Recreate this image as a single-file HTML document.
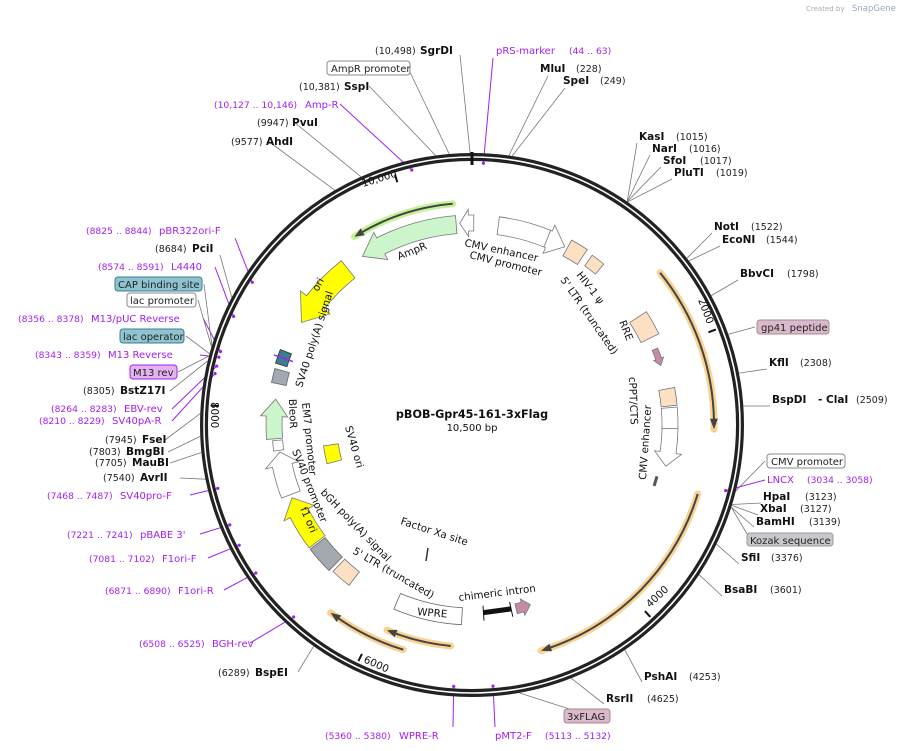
<!DOCTYPE html>
<html><head><meta charset="utf-8">
<style>
html,body{margin:0;padding:0;background:#fff;}
svg{display:block;}
text{font-family:"DejaVu Sans","Liberation Sans",sans-serif;}
.n{font-size:9.5px;fill:#222;}
.b{font-size:10.5px;font-weight:bold;fill:#111;}
.p{font-size:10px;fill:#a020f0;}
.pn{font-size:9.2px;fill:#a020f0;}
.f{font-size:10.3px;fill:#111;}
.bx{font-size:10px;fill:#222;}
.l{stroke:#777;stroke-width:0.8;fill:none;}
.lp{stroke:#a020f0;stroke-width:1;fill:none;}
</style></head>
<body>
<svg id="s" width="903" height="751" viewBox="0 0 903 751" xmlns="http://www.w3.org/2000/svg">
<text x="806" y="11" style="font-size:7px;fill:#aaa">Created by</text>
<text x="852" y="11" style="font-size:8.5px;fill:#9ab">SnapGene</text>
<g id="lines"></g>
<circle cx="472" cy="425" r="268" fill="none" stroke="#222" stroke-width="8"/>
<circle cx="472" cy="425" r="268" fill="none" stroke="#fff" stroke-width="1.6"/>
<line x1="472" y1="152" x2="472" y2="165" stroke="#111" stroke-width="3"/>
<g id="feat"></g>
<text x="363" y="187" class="f" transform="rotate(-17 363 187)">10,000</text>
<text x="698" y="300" class="f" transform="rotate(69 698 300)">2000</text>
<text x="650" y="608" class="f" transform="rotate(-43 650 608)">4000</text>
<text x="363" y="662" class="f" transform="rotate(24 363 662)">6000</text>
<text x="211" y="402" class="f" transform="rotate(90 211 402)">8000</text>

<text x="472" y="418" text-anchor="middle" style="font-size:11.2px;font-weight:bold;fill:#111">pBOB-Gpr45-161-3xFlag</text>
<text x="472" y="431" text-anchor="middle" style="font-size:10px;fill:#111">10,500 bp</text>

<text x="399" y="260" class="f" transform="rotate(-22 399 260)">AmpR</text>
<text x="464" y="246" class="f" transform="rotate(12 464 246)">CMV enhancer</text>
<text x="469" y="258" class="f" transform="rotate(14 469 258)">CMV promoter</text>
<text x="576" y="275" class="f" transform="rotate(52 576 275)">HIV-1 ψ</text>
<text x="560" y="280" class="f" transform="rotate(55 560 280)">5' LTR (truncated)</text>
<text x="619" y="322" class="f" transform="rotate(68 619 322)">RRE</text>
<text x="629" y="377" class="f" transform="rotate(88 629 377)">cPPT/CTS</text>
<text x="646" y="480" class="f" transform="rotate(-86 646 480)">CMV enhancer</text>
<text x="302" y="388" class="f" transform="rotate(-72 302 388)">SV40 poly(A) signal</text>
<text x="289" y="399" class="f" transform="rotate(88 289 399)">BleoR</text>
<text x="302" y="403" class="f" transform="rotate(84 302 403)">EM7 promoter</text>
<text x="292" y="451" class="f" transform="rotate(68 292 451)">SV40 promoter</text>
<text x="320" y="493" class="f" transform="rotate(46 320 493)">bGH poly(A) signal</text>
<text x="352" y="553" class="f" transform="rotate(30 352 553)">5' LTR (truncated)</text>
<text x="345" y="427" class="f" transform="rotate(74 345 427)">SV40 ori</text>
<text x="400" y="524" class="f" transform="rotate(18 400 524)">Factor Xa site</text>
<text x="459" y="601" class="f" transform="rotate(-7 459 601)">chimeric intron</text>
<text x="417" y="615" class="f" transform="rotate(5 417 615)">WPRE</text>
<text x="318" y="292" class="f" transform="rotate(-62 318 292)">ori</text>
<text x="300" y="509" class="f" transform="rotate(66 300 509)">f1 ori</text>

<text x="375" y="54" class="n">(10,498)</text><text x="420" y="54" class="b">SgrDI</text>
<text x="496" y="54" class="p">pRS-marker</text><text x="569" y="54" class="pn">(44 .. 63)</text>
<text x="540" y="72" class="b">MluI</text><text x="576" y="72" class="n">(228)</text>
<text x="563" y="84" class="b">SpeI</text><text x="600" y="84" class="n">(249)</text>
<rect x="327" y="61" width="83" height="14" rx="3" fill="#fff" stroke="#888"/><text x="331" y="72" class="bx">AmpR promoter</text>
<text x="299" y="90" class="n">(10,381)</text><text x="344" y="90" class="b">SspI</text>
<text x="214" y="108" class="pn">(10,127 .. 10,146)</text><text x="305" y="108" class="p">Amp-R</text>
<text x="257" y="126" class="n">(9947)</text><text x="292" y="126" class="b">PvuI</text>
<text x="231" y="145" class="n">(9577)</text><text x="266" y="145" class="b">AhdI</text>

<text x="639" y="140" class="b">KasI</text><text x="676" y="140" class="n">(1015)</text>
<text x="652" y="152" class="b">NarI</text><text x="689" y="152" class="n">(1016)</text>
<text x="663" y="164" class="b">SfoI</text><text x="700" y="164" class="n">(1017)</text>
<text x="674" y="176" class="b">PluTI</text><text x="716" y="176" class="n">(1019)</text>
<text x="714" y="230" class="b">NotI</text><text x="751" y="230" class="n">(1522)</text>
<text x="722" y="243" class="b">EcoNI</text><text x="766" y="243" class="n">(1544)</text>
<text x="740" y="277" class="b">BbvCI</text><text x="787" y="277" class="n">(1798)</text>
<rect x="757" y="320" width="72" height="14" rx="3" fill="#dbb9cc" stroke="#a88"/><text x="761" y="331" class="bx">gp41 peptide</text>
<text x="769" y="366" class="b">KflI</text><text x="800" y="366" class="n">(2308)</text>
<text x="772" y="403" class="b">BspDI</text><text x="818" y="403" class="b">- ClaI</text><text x="856" y="403" class="n">(2509)</text>
<rect x="767" y="454" width="78" height="14" rx="3" fill="#fff" stroke="#888"/><text x="771" y="465" class="bx">CMV promoter</text>
<text x="767" y="483" class="p">LNCX</text><text x="807" y="483" class="pn">(3034 .. 3058)</text>
<text x="763" y="500" class="b">HpaI</text><text x="805" y="500" class="n">(3123)</text>
<text x="760" y="512" class="b">XbaI</text><text x="800" y="512" class="n">(3127)</text>
<text x="756" y="525" class="b">BamHI</text><text x="809" y="525" class="n">(3139)</text>
<rect x="747" y="533" width="86" height="13" rx="3" fill="#c8c8cc" stroke="#999"/><text x="750" y="544" class="bx">Kozak sequence</text>
<text x="741" y="561" class="b">SfiI</text><text x="771" y="561" class="n">(3376)</text>
<text x="724" y="593" class="b">BsaBI</text><text x="770" y="593" class="n">(3601)</text>
<text x="644" y="680" class="b">PshAI</text><text x="689" y="680" class="n">(4253)</text>
<text x="606" y="702" class="b">RsrII</text><text x="647" y="702" class="n">(4625)</text>
<rect x="564" y="709" width="46" height="14" rx="3" fill="#dbb9cc" stroke="#a88"/><text x="567" y="720" class="bx">3xFLAG</text>
<text x="495" y="739" class="p">pMT2-F</text><text x="545" y="739" class="pn">(5113 .. 5132)</text>
<text x="325" y="739" class="pn">(5360 .. 5380)</text><text x="399" y="739" class="p">WPRE-R</text>

<text x="218" y="676" class="n">(6289)</text><text x="255" y="676" class="b">BspEI</text>
<text x="139" y="647" class="pn">(6508 .. 6525)</text><text x="212" y="647" class="p">BGH-rev</text>
<text x="105" y="594" class="pn">(6871 .. 6890)</text><text x="178" y="594" class="p">F1ori-R</text>
<text x="89" y="562" class="pn">(7081 .. 7102)</text><text x="162" y="562" class="p">F1ori-F</text>
<text x="67" y="538" class="pn">(7221 .. 7241)</text><text x="140" y="538" class="p">pBABE 3'</text>
<text x="47" y="499" class="pn">(7468 .. 7487)</text><text x="120" y="499" class="p">SV40pro-F</text>
<text x="103" y="481" class="n">(7540)</text><text x="140" y="481" class="b">AvrII</text>
<text x="95" y="466" class="n">(7705)</text><text x="132" y="466" class="b">MauBI</text>
<text x="89" y="455" class="n">(7803)</text><text x="126" y="455" class="b">BmgBI</text>
<text x="105" y="443" class="n">(7945)</text><text x="142" y="443" class="b">FseI</text>
<text x="39" y="424" class="pn">(8210 .. 8229)</text><text x="112" y="424" class="p">SV40pA-R</text>
<text x="51" y="412" class="pn">(8264 .. 8283)</text><text x="124" y="412" class="p">EBV-rev</text>
<text x="83" y="394" class="n">(8305)</text><text x="120" y="394" class="b">BstZ17I</text>
<rect x="130" y="365" width="47" height="14" rx="3" fill="#e2b3f0" stroke="#a020f0"/><text x="133" y="376" class="bx">M13 rev</text>
<text x="35" y="358" class="pn">(8343 .. 8359)</text><text x="108" y="358" class="p">M13 Reverse</text>
<rect x="120" y="329" width="64" height="14" rx="3" fill="#8fc3cf" stroke="#3a7f8f"/><text x="123" y="340" class="bx">lac operator</text>
<text x="18" y="322" class="pn">(8356 .. 8378)</text><text x="91" y="322" class="p">M13/pUC Reverse</text>
<rect x="127" y="293" width="69" height="14" rx="3" fill="#fff" stroke="#888"/><text x="130" y="304" class="bx">lac promoter</text>
<rect x="115" y="277" width="87" height="14" rx="3" fill="#8fc3cf" stroke="#3a7f8f"/><text x="118" y="288" class="bx">CAP binding site</text>
<text x="98" y="270" class="pn">(8574 .. 8591)</text><text x="171" y="270" class="p">L4440</text>
<text x="155" y="252" class="n">(8684)</text><text x="192" y="252" class="b">PciI</text>
<text x="86" y="234" class="pn">(8825 .. 8844)</text><text x="159" y="234" class="p">pBR322ori-F</text>
</svg>
<script>
(function(){
var NS="http://www.w3.org/2000/svg",cx=472,cy=425;
function P(r,t){t=t*Math.PI/180;return [cx+r*Math.sin(t),cy-r*Math.cos(t)];}
function pt(r,t){var p=P(r,t);return p[0].toFixed(1)+" "+p[1].toFixed(1);}
function arc(r,a,b){var large=Math.abs(b-a)>180?1:0,sw=b>a?1:0;return "A"+r+" "+r+" 0 "+large+" "+sw+" "+pt(r,b);}
var feat=document.getElementById("feat"),lines=document.getElementById("lines");
function add(g,tag,at){var e=document.createElementNS(NS,tag);for(var k in at)e.setAttribute(k,at[k]);g.appendChild(e);return e;}
function band(r1,r2,a,b,fill,stroke){add(feat,"path",{d:"M"+pt(r2,a)+arc(r2,a,b)+"L"+pt(r1,b)+arc(r1,b,a)+"Z",fill:fill,stroke:stroke||"#777","stroke-width":0.8});}
function arrow(r1,r2,a,b,h,fill){var d=b>a?1:-1,bb=b-d*h,w=(r2-r1)*0.35,rm=(r1+r2)/2;
 add(feat,"path",{d:"M"+pt(r2,a)+arc(r2,a,bb)+"L"+pt(r2+w,bb)+"L"+pt(rm,b)+"L"+pt(r1-w,bb)+"L"+pt(r1,bb)+arc(r1,bb,a)+"Z",fill:fill,stroke:"#777","stroke-width":0.8});}
function hl(r,a,b,col){var d=b>a?1:-1;
 add(feat,"path",{d:"M"+pt(r,a)+arc(r,a,b),fill:"none",stroke:col,"stroke-width":7,"stroke-linecap":"round",opacity:0.8});
 add(feat,"path",{d:"M"+pt(r,a)+arc(r,a,b-d*1.5),fill:"none",stroke:"#444","stroke-width":2});
 add(feat,"path",{d:"M"+pt(r-4,b-d*2.5)+"L"+pt(r,b)+"L"+pt(r+4,b-d*2.5)+"Z",fill:"#444"});}
hl(222,-5,-32,"#b6ef80");
hl(242,51,91,"#f8c878");
hl(236,107,163,"#f8c878");
hl(222,185.5,202.5,"#f8c878");
hl(235,197,217,"#f8c878");
arrow(192,210,-4.5,-33,6,"#ccf5cc");
arrow(194,210,0.5,-3.5,2.5,"#fff");
arrow(192,210,7.5,27.5,5,"#fff");
add(feat,"path",{d:"M"+pt(192,22)+"L"+pt(210,22),stroke:"#777","stroke-width":0.8});
band(192,210,28.3,33.3,"#fde0c4");
band(195,208,35.3,39.3,"#fde0c4");
band(188,208,57,64,"#fde0c4");
arrow(195,201,67.5,72.5,2,"#c48aa8");
band(190,206,79.5,84.5,"#fde0c4");
arrow(190,206,85,102,4,"#fff");
add(feat,"path",{d:"M"+pt(190,91)+"L"+pt(206,91),stroke:"#777","stroke-width":0.8});
add(feat,"path",{d:"M"+pt(192,105.5)+"L"+pt(192,108.5),stroke:"#555","stroke-width":3});
add(feat,"path",{d:"M"+pt(188,168)+"L"+pt(188,176.5),stroke:"#111","stroke-width":5});
add(feat,"path",{d:"M"+pt(181,168)+"L"+pt(196,168)+"M"+pt(181,176.5)+"L"+pt(196,176.5),stroke:"#111","stroke-width":1});
arrow(184,194,166.5,162,2.5,"#c48aa8");
band(183,200,183,203,"#fff","#666");
add(feat,"path",{d:"M428 548L426 561",stroke:"#333","stroke-width":1.5});
band(185,202,217.5,223.5,"#fde0c4");
band(185,204,224.5,232.5,"#a4a8b0","#666");
arrow(184,204,233,248,5,"#ffff00");
arrow(184,204,249,262,4,"#fff");
band(190,200,262.5,265.5,"#fff");
arrow(190,206,266,277.5,5,"#ccf5cc");
band(135,150,255,262,"#ffff00");
band(190,205,282,286,"#a4a8b0","#666");
band(194,206,287.5,291.5,"#3a7f8f","#333");
add(feat,"path",{d:"M"+pt(190,289.5)+"L"+pt(210,289.5),stroke:"#a020f0","stroke-width":1.5});
arrow(188,210,321.5,301,7,"#ffff00");
[342.9,68.6,137.1,205.7,274.3].forEach(function(t){add(feat,"path",{d:"M"+pt(262,t)+"L"+pt(254,t),stroke:"#111","stroke-width":2});});
var L=[[460,55,359.6],[493,58,2.5,1],[548,76,7.8],[565,88,8.5],[637,143,34.8],[650,155,34.8],[661,167,34.8],[672,179,34.9],[712,233,52.2],[720,246,52.9],[738,280,61.6],[755,327,70.5],[767,369,79],[770,406,86],[765,461,104],[765,480,104.5,1],[761,503,107],[758,515,107.2],[754,527,107.6],[750,539,107.6],[739,564,116],[722,596,123.4],[642,682,145.8],[604,704,158.6],[585,714,170],[495,727,175.4,1],[453,727,184,1],[298,672,215.6],[250,643,222.9,1],[224,590,235.6,1],[208,558,242.7,1],[200,534,247.6,1],[190,495,256,1],[180,478,258.5],[170,463,264.2],[168,452,267.6],[165,440,272.4],[172,421,281.3,1],[172,409,283,1],[170,391,283.6],[178,372,284.7],[200,355,285,1],[186,336,285.2],[203,318,286.3,1],[198,300,286.7],[204,284,287],[215,267,294.5,1],[220,255,298],[235,238,303,1],[268,141,329.7],[294,122,335.9],[340,104,346.7,1],[369,86,352.3],[408,68,355.2]];
L.forEach(function(a){var p=P(a[3]?262:272,a[2]);add(lines,"path",{d:"M"+a[0]+" "+a[1]+"L"+p[0].toFixed(1)+" "+p[1].toFixed(1),"class":a[3]?"lp":"l"});
 if(a[3]){var q=P(262,a[2]);add(lines,"circle",{cx:q[0],cy:q[1],r:1.6,fill:"#a020f0"});}});
})();
</script>
</body></html>
